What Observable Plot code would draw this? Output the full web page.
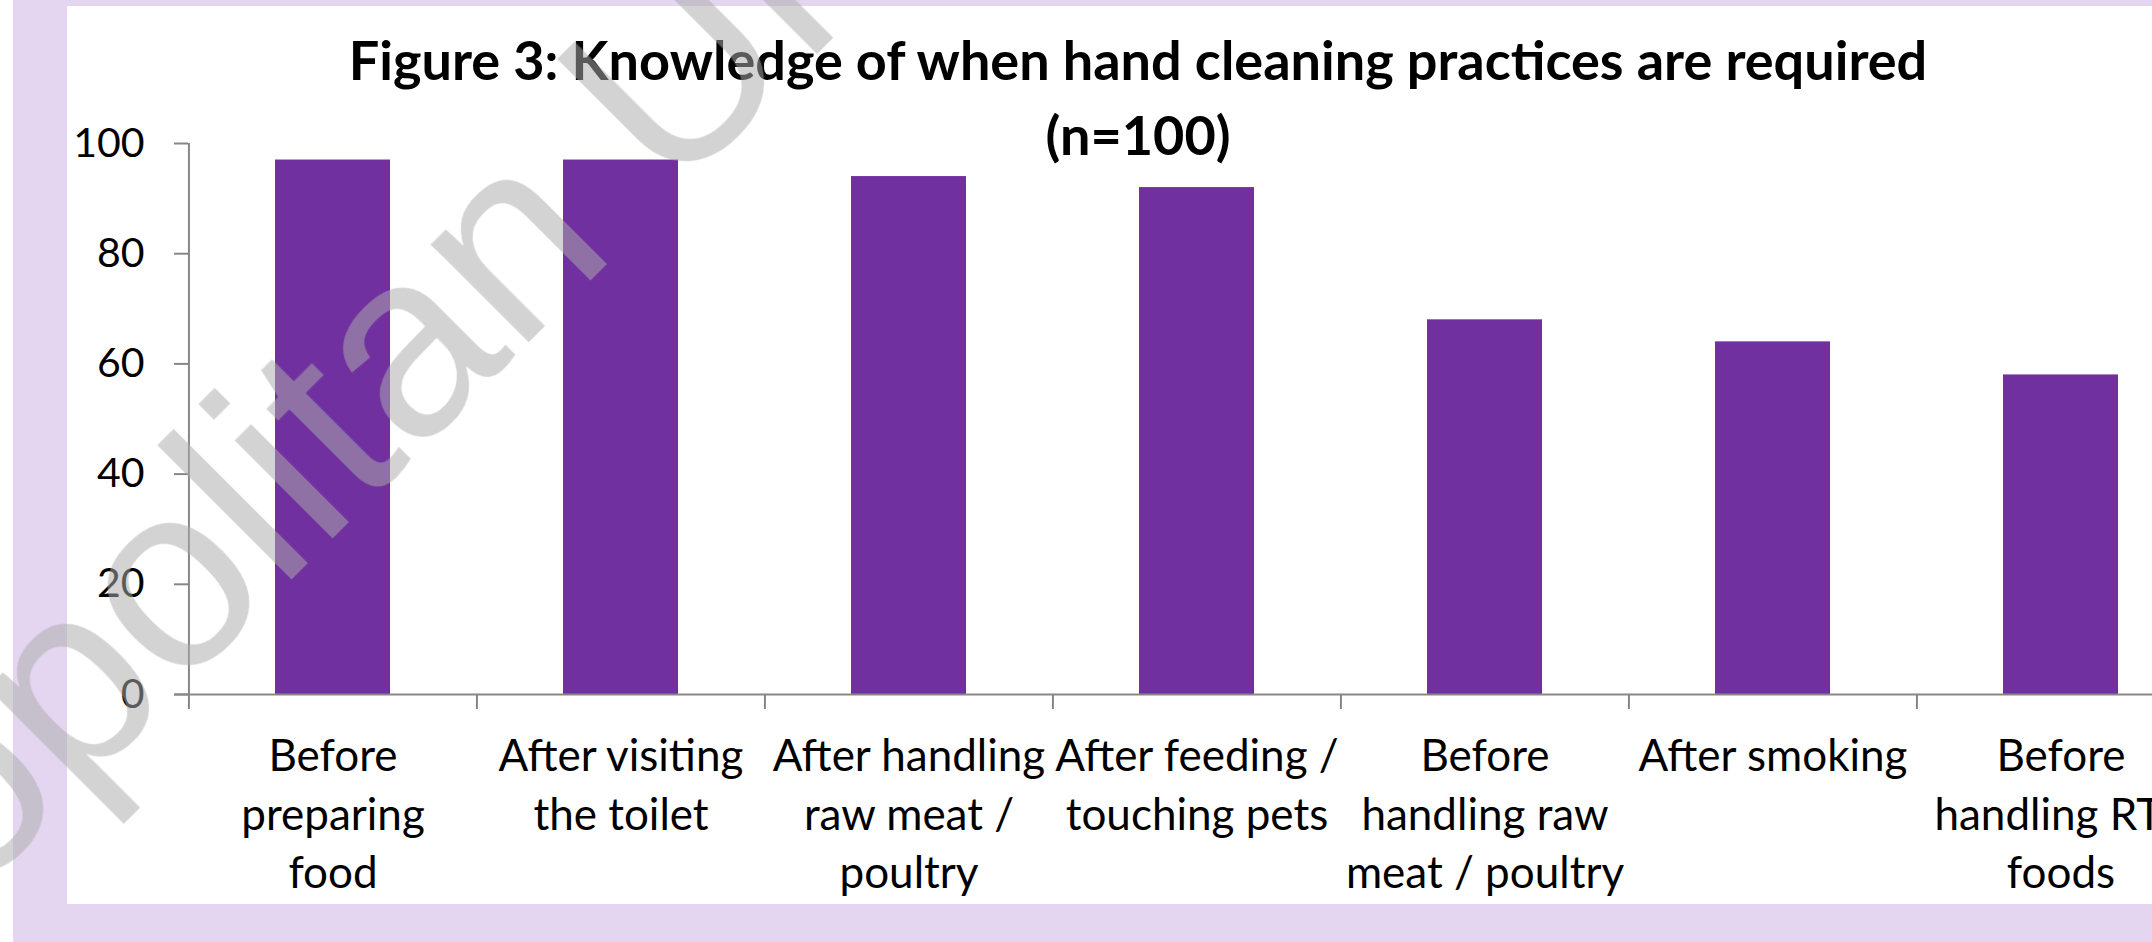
<!DOCTYPE html>
<html>
<head>
<meta charset="utf-8">
<script src="https://cdn.jsdelivr.net/npm/d3@7"></script>
<script src="https://cdn.jsdelivr.net/npm/@observablehq/plot@0.6"></script>
<style>
  html, body { margin: 0; padding: 0; background: #ffffff; overflow: hidden; width: 2152px; height: 942px; }
  #frame { position: absolute; left: 13px; top: -10px; width: 2400px; height: 952px; background: #E4D5F0; }
  #panel { position: absolute; left: 67px; top: 6px; width: 2143px; height: 898px; background: #ffffff; }
  #panel svg { position: absolute; left: 0; top: 0; }
  #overlay { position: absolute; left: 0; top: 0; width: 2152px; height: 942px; pointer-events: none; }
</style>
</head>
<body>
<div id="frame"></div>
<div id="panel"></div>
<svg id="overlay" xmlns="http://www.w3.org/2000/svg" width="2152" height="942"></svg>
<script>
// ---- data ----
const categories = [
  "Before preparing food",
  "After visiting the toilet",
  "After handling raw meat / poultry",
  "After feeding / touching pets",
  "Before handling raw meat / poultry",
  "After smoking",
  "Before handling RTE foods"
];
const tickLabels = [
  "Before\npreparing\nfood",
  "After visiting\nthe toilet",
  "After handling\nraw meat /\npoultry",
  "After feeding /\ntouching pets",
  "Before\nhandling raw\nmeat / poultry",
  "After smoking",
  "Before\nhandling RTE\nfoods"
];
const percentages = [97, 97, 94, 92, 68, 64, 58];
const yTicks = [0, 20, 40, 60, 80, 100];
const titleLines = ["Figure 3: Knowledge of when hand cleaning practices are required", "(n=100)"];
const watermarkText = "Cardiff Metropolitan University";

// ---- layout ----
const W = 2143, H = 898, mL = 121, mR = 5, mT = 137, mB = 210;
const step = (W - mL - mR) / categories.length;
const axisColor = "#878787";

const rows = categories.map((c, i) => ({category: c, label: tickLabels[i], value: percentages[i]}));

const chart = Plot.plot({
  width: W, height: H,
  marginLeft: mL, marginRight: mR, marginTop: mT, marginBottom: mB,
  style: {fontFamily: "Lato", background: "transparent", overflow: "visible", color: "#000"},
  x: {domain: categories, paddingInner: 0.6, paddingOuter: 0.3, axis: null},
  y: {domain: [0, 100], axis: null},
  marks: [
    Plot.barY(rows, {x: "category", y: "value", fill: "#7030A0"}),
    Plot.ruleX([categories[0]], {dx: -step / 2, y1: 0, y2: 100, stroke: axisColor, strokeWidth: 2}),
    Plot.ruleY([0], {stroke: axisColor, strokeWidth: 2, insetLeft: -14}),
    Plot.ruleX(categories, {dx: -step / 2, y1: 0, y2: 0, insetBottom: -15, stroke: axisColor, strokeWidth: 2}),
    Plot.axisY({ticks: yTicks, label: null, tickSize: 14, tickPadding: 30, fontSize: 41, stroke: axisColor, strokeWidth: 2, fill: "#000", tickFormat: d => String(d)}),
    Plot.text(rows, {x: "category", text: "label", frameAnchor: "bottom", lineAnchor: "top", dy: 35, lineHeight: 1.33, fontSize: 44, fill: "#000"})
  ]
});
document.getElementById("panel").appendChild(chart);

// ---- title + watermark overlay ----
const ns = "http://www.w3.org/2000/svg";
const overlay = document.getElementById("overlay");
const titleBaselines = [80, 155];
titleLines.forEach((t, i) => {
  const el = document.createElementNS(ns, "text");
  el.setAttribute("x", 1138);
  el.setAttribute("y", titleBaselines[i]);
  el.setAttribute("text-anchor", "middle");
  el.setAttribute("font-family", "Lato");
  el.setAttribute("font-weight", "700");
  el.setAttribute("font-size", 54);
  el.setAttribute("fill", "#000");
  el.textContent = t;
  overlay.appendChild(el);
});

const wmSize = 262;
const wmFamily = "'Liberation Sans', Arial, sans-serif";
const ctx = document.createElement("canvas").getContext("2d");
ctx.font = wmSize + "px " + wmFamily;
const pre = ctx.measureText("Cardiff Metropo").width;
const wm = document.createElementNS(ns, "text");
wm.setAttribute("transform", "translate(300,571) rotate(-45)");
wm.setAttribute("x", -(pre + 0.113 * wmSize));
wm.setAttribute("y", 0);
wm.setAttribute("font-family", wmFamily);
wm.setAttribute("font-size", wmSize);
wm.setAttribute("fill", "rgb(171,171,171)");
wm.setAttribute("fill-opacity", 0.525);
wm.textContent = watermarkText;
overlay.appendChild(wm);
</script>
</body>
</html>
